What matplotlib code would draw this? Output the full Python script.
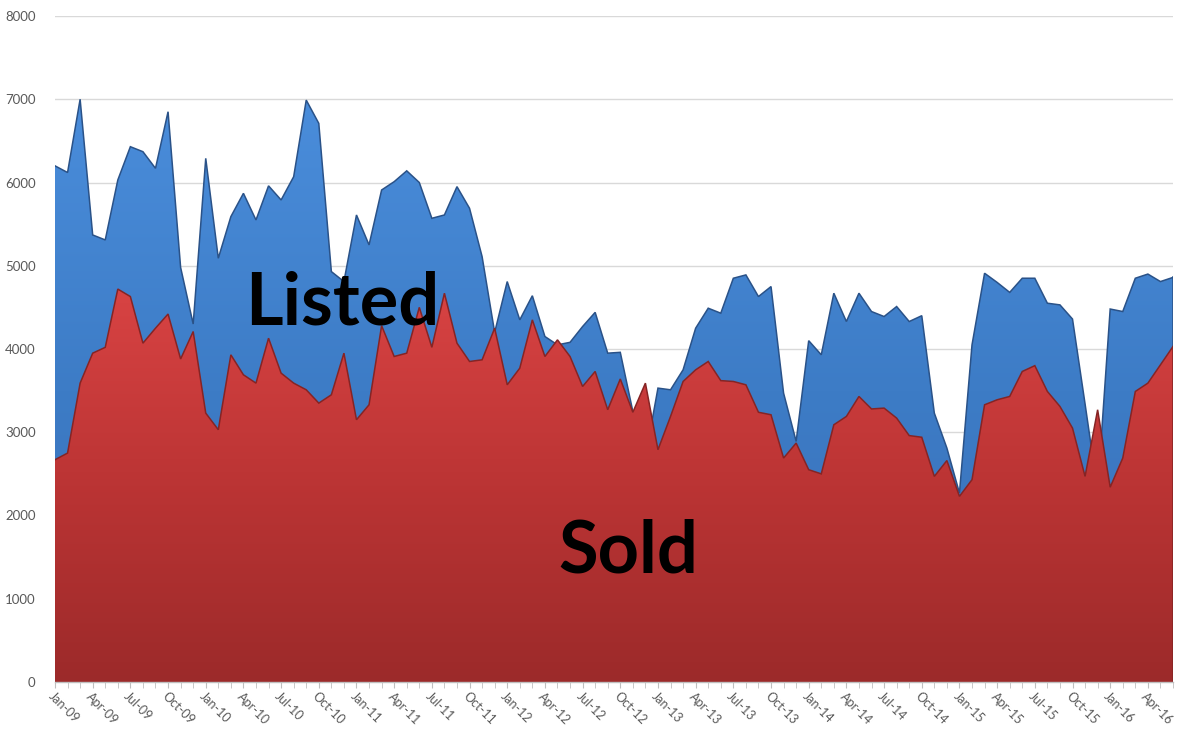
import numpy as np
import matplotlib
matplotlib.use("Agg")
import matplotlib.pyplot as plt
from matplotlib.colors import LinearSegmentedColormap

plt.rcParams['font.family'] = ['Lato', 'DejaVu Sans']

# ---- data (monthly, Jan-09 .. Jun-16) ----
listed = [6200, 6120, 7000, 5370, 5310, 6030, 6430, 6370, 6170, 6850, 4980, 4300,
          6290, 5090, 5590, 5870, 5550, 5960, 5790, 6070, 6990, 6710, 4930, 4810,
          5610, 5250, 5910, 6010, 6140, 6000, 5570, 5610, 5950, 5690, 5110, 4200,
          4810, 4350, 4640, 4150, 4050, 4080, 4270, 4440, 3950, 3960, 3250, 2700,
          3530, 3510, 3750, 4250, 4490, 4430, 4850, 4890, 4630, 4750, 3470, 2890,
          4100, 3930, 4670, 4330, 4670, 4450, 4390, 4510, 4330, 4400, 3230, 2810,
          2270, 4050, 4910, 4800, 4680, 4850, 4850, 4550, 4530, 4360, 3340, 2300,
          4480, 4450, 4850, 4900, 4810, 4860]
sold = [2670, 2750, 3590, 3950, 4020, 4720, 4630, 4070, 4250, 4420, 3880, 4210,
        3230, 3030, 3930, 3690, 3590, 4130, 3710, 3590, 3510, 3350, 3450, 3950,
        3150, 3330, 4280, 3910, 3950, 4500, 4020, 4670, 4070, 3850, 3870, 4250,
        3570, 3770, 4350, 3910, 4110, 3910, 3550, 3730, 3270, 3640, 3240, 3590,
        2790, 3190, 3610, 3750, 3850, 3620, 3610, 3570, 3240, 3210, 2690, 2870,
        2550, 2500, 3090, 3190, 3430, 3280, 3290, 3170, 2960, 2940, 2470, 2660,
        2230, 2430, 3330, 3390, 3430, 3730, 3800, 3490, 3310, 3050, 2470, 3270,
        2340, 2690, 3490, 3590, 3810, 4030]
tick_labels = ['Jan-09', 'Apr-09', 'Jul-09', 'Oct-09', 'Jan-10', 'Apr-10', 'Jul-10', 'Oct-10',
               'Jan-11', 'Apr-11', 'Jul-11', 'Oct-11', 'Jan-12', 'Apr-12', 'Jul-12', 'Oct-12',
               'Jan-13', 'Apr-13', 'Jul-13', 'Oct-13', 'Jan-14', 'Apr-14', 'Jul-14', 'Oct-14',
               'Jan-15', 'Apr-15', 'Jul-15', 'Oct-15', 'Jan-16', 'Apr-16']
y_ticks = [0, 1000, 2000, 3000, 4000, 5000, 6000, 7000, 8000]

x = np.arange(len(listed))

fig = plt.figure(figsize=(11.88, 7.30), dpi=100)
ax = fig.add_axes([55 / 1188, 48 / 730, 1118 / 1188, 666 / 730])
ax.set_xlim(0, len(listed) - 1)
ax.set_ylim(0, 8000)

# gridlines
ax.set_yticks(y_ticks)
ax.yaxis.grid(True, color='#d9d9d9', lw=1.0)
ax.set_axisbelow(True)

blue_cmap = LinearSegmentedColormap.from_list('b', ['#3a6fb8', '#3d7cc6', '#4a8ddb'])
red_cmap = LinearSegmentedColormap.from_list('r', ['#9c2a2a', '#bb3434', '#d84343'])
grad = np.linspace(0, 1, 256).reshape(-1, 1)

# Listed
pb = ax.fill_between(x, 0, listed, color='none', lw=0, zorder=2)
imb = ax.imshow(grad, extent=[0, len(x) - 1, 0, max(listed)], origin='lower', aspect='auto',
                cmap=blue_cmap, zorder=2, interpolation='bicubic')
imb.set_clip_path(pb.get_paths()[0], transform=ax.transData)
ax.plot(x, listed, color='#2a5288', lw=1.1, zorder=3, solid_joinstyle='miter')

# Sold
pr = ax.fill_between(x, 0, sold, color='none', lw=0, zorder=4)
imr = ax.imshow(grad, extent=[0, len(x) - 1, 0, max(sold)], origin='lower', aspect='auto',
                cmap=red_cmap, zorder=4, interpolation='bicubic')
imr.set_clip_path(pr.get_paths()[0], transform=ax.transData)
ax.plot(x, sold, color='#862424', lw=1.1, zorder=5, solid_joinstyle='miter')
ax.plot([x[-1], x[-1]], [0, listed[-1]], color='#2a5288', lw=1.1, zorder=3)
ax.plot([x[-1], x[-1]], [0, sold[-1]], color='#862424', lw=1.1, zorder=5)

ax.set_xlim(0, len(listed) - 1)
ax.set_ylim(0, 8000)

# labels inside
ax.text(22.85, 4290, 'Listed', fontsize=52, fontweight='bold', color='black',
        ha='center', va='baseline', zorder=10)
ax.text(45.6, 1320, 'Sold', fontsize=52, fontweight='bold', color='black',
        ha='center', va='baseline', zorder=10)

# axes styling
for s in ['top', 'right', 'left']:
    ax.spines[s].set_visible(False)
ax.spines['bottom'].set_color('#bfbfbf')
ax.spines['bottom'].set_linewidth(1.0)
ax.spines['bottom'].set_zorder(6)

ax.set_xticks(x[::3])
ax.set_xticklabels(tick_labels, rotation=-45, ha='left', va='top', rotation_mode='anchor',
                   fontsize=9, color='#595959')
ax.set_xticks(x, minor=True)
ax.tick_params(axis='x', which='both', length=4, color='#bfbfbf', direction='out', pad=2)
ax.tick_params(axis='y', length=0, labelsize=9.5, labelcolor='#595959', pad=14)
ax.set_yticklabels([str(v) for v in y_ticks])

fig.savefig('out.png', dpi=100, facecolor='white')
